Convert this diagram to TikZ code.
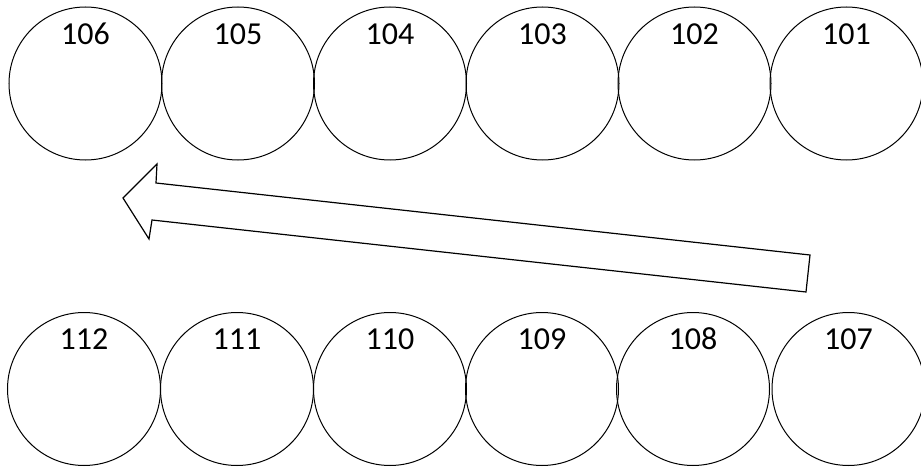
\documentclass[tikz,border=0pt]{standalone}
\usepackage{fontspec}
\setmainfont{Carlito}
\begin{document}
\begin{tikzpicture}[x=1pt,y=-1pt,
  disc/.style={draw=black,line width=1pt,circle,minimum size=153pt,inner sep=0pt},
  lbl/.style={font=\fontsize{32}{32}\selectfont,inner sep=0pt,anchor=base},
  bigarrow/.style={draw=black,line width=1.2pt,line join=miter,fill=white}]
\useasboundingbox (0,0) rectangle (921,468);
% top row
\foreach \n/\x in {106/85.5,105/238,104/390,103/542.5,102/694.5,101/846.5}{
  \node[disc] (c\n) at (\x,83.5) {};
  \node[lbl] (t\n) at (\x,45) {\n};
}
% bottom row
\foreach \n/\x in {112/84,111/237,110/390,109/542,108/693,107/848.5}{
  \node[disc] (c\n) at (\x,389) {};
  \node[lbl] (t\n) at (\x,349) {\n};
}
% arrow
\coordinate (a1) at (123,198);
\coordinate (a2) at (157,164);
\coordinate (a3) at (156,183);
\coordinate (a4) at (810,255);
\coordinate (a5) at (806,292);
\coordinate (a6) at (152,220);
\coordinate (a7) at (149,239);
\draw[bigarrow] (a1) -- (a2) -- (a3) -- (a4) -- (a5) -- (a6) -- (a7) -- cycle;
\end{tikzpicture}
\end{document}
